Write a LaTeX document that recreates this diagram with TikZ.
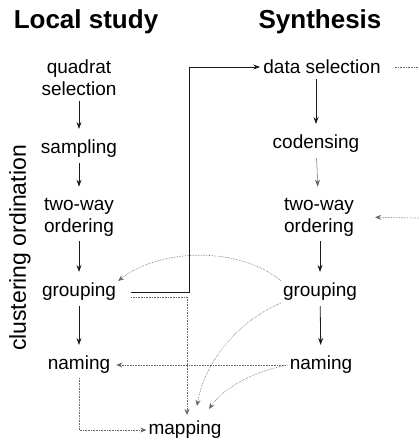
\documentclass[tikz,border=0pt]{standalone}
\usepackage{fontspec}
\setmainfont{Liberation Sans}
\usetikzlibrary{arrows.meta}
\definecolor{flowblack}{HTML}{1a1a1a}
\definecolor{flowgray}{HTML}{666666}

\begin{document}
\begin{tikzpicture}[x=1pt,y=-1pt,
  head/.style={font=\fontsize{26}{30}\selectfont\bfseries,inner sep=0pt},
  stage/.style={font=\fontsize{19}{22}\selectfont,align=center,inner sep=2pt},
  flow/.style={-{Stealth[length=7pt,width=5pt]},line width=0.8pt,flowblack,
    shorten <=3pt,shorten >=9pt},
  link/.style={-{Stealth[length=6pt,width=5pt]},line width=0.6pt,flowgray,
    densely dotted}]
  \useasboundingbox (0,0) rectangle (419,441);
  % column heads
  \node[head] (local) at (86,22) {Local study};
  \node[head] (synth) at (320,22) {Synthesis};
  \node[font=\fontsize{23}{27}\selectfont,rotate=90,inner sep=0pt] (axis) at (20,248)
    {clustering ordination};
  % local study
  \node[stage] (quad) at (79,78) {quadrat\\selection};
  \node[stage] (samp) at (79,149) {sampling};
  \node[stage] (twoL) at (79,217) {two-way\\ordering};
  \node[stage] (grpL) at (79,292) {grouping};
  \node[stage] (namL) at (79,365) {naming};
  \node[stage] (map) at (185,430) {mapping};
  % synthesis
  \node[stage] (data) at (322,67) {data selection};
  \node[stage] (cond) at (316,144) {codensing};
  \node[stage] (twoR) at (319,217) {two-way\\ordering};
  \node[stage] (grpR) at (320,292) {grouping};
  \node[stage] (namR) at (321,365) {naming};
  \coordinate (bend) at (189,0);
  \coordinate (outA) at (419,67);
  \coordinate (inB) at (419,218);
  % main flow
  \draw[flow] (quad) -- (samp);
  \draw[flow] (samp) -- (twoL);
  \draw[flow] (twoL) -- (grpL);
  \draw[flow] (grpL) -- (namL);
  \draw[flow] (data.south -| cond) -- (cond);
  \draw[flow,flowgray,line width=0.5pt] (cond) -- (twoR);
  \draw[flow] (twoR.south -| grpR) -- (grpR);
  \draw[flow] (grpR) -- (namR);
  \draw[flow,shorten <=13pt,shorten >=1pt] (grpL.east) -- (grpL.east -| bend) |- (data.west);
  % dotted links
  \draw[link,-,shorten <=12pt] (data.east) -- (outA);
  \draw[link,shorten >=19pt] (inB) -- (twoR.east);
  \draw[link,shorten <=13pt,shorten >=4pt] ([yshift=-5pt]grpL.east) -| ([xshift=2pt]map.north);
  \draw[link,shorten <=2pt] (namL.south) |- (map.west);
  \draw[link,shorten <=2pt,shorten >=4pt] (namR.west) -- (namL.east);
  \draw[link] (grpR.north west) .. controls (240,246) and (160,248) .. (grpL.north east);
  \draw[link] (grpR.south west) .. controls (240,320) and (205,360) .. ([shift={(12,-13)}]map.north);
  \draw[link] (namR.west) .. controls (250,372) and (222,390) .. ([shift={(24,-10)}]map.north);
\end{tikzpicture}
\end{document}
